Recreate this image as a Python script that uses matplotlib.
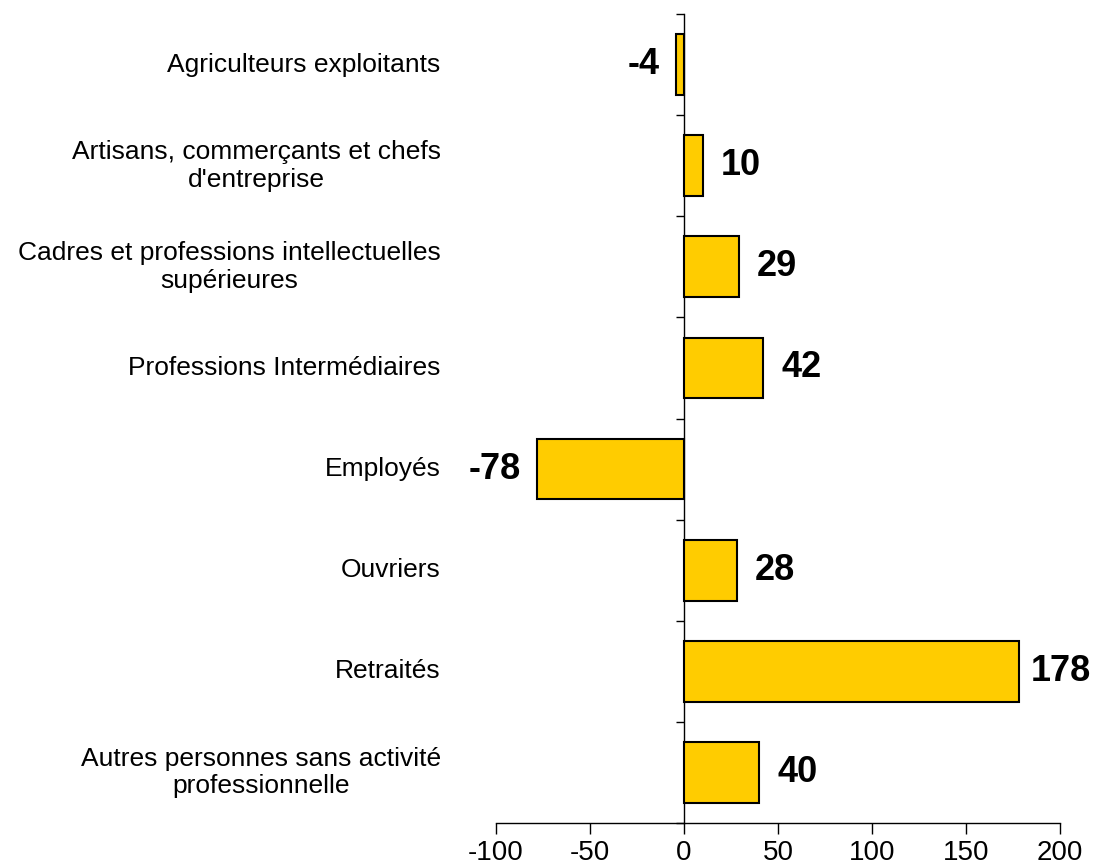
import matplotlib
matplotlib.use("Agg")
from matplotlib import pyplot as plt

categories = [
    "Agriculteurs exploitants",
    "Artisans, commerçants et chefs\nd'entreprise",
    "Cadres et professions intellectuelles\nsupérieures",
    "Professions Intermédiaires",
    "Employés",
    "Ouvriers",
    "Retraités",
    "Autres personnes sans activité\nprofessionnelle",
]
values = [-4, 10, 29, 42, -78, 28, 178, 40]
xticks = [-100, -50, 0, 50, 100, 150, 200]

plt.rcParams['font.family'] = ['Liberation Sans', 'DejaVu Sans']

fig = plt.figure(figsize=(10.94, 8.66), dpi=100)
ax = fig.add_axes([496 / 1094, 1 - 823 / 866, 564 / 1094, 809 / 866])

ypos = list(range(len(categories)))
ax.barh(ypos, values, height=0.6, color='#FFCC00', edgecolor='black',
        linewidth=1.5, zorder=3)

ax.set_xlim(-100, 200)
ax.set_ylim(len(categories) - 0.5, -0.5)

for side in ['top', 'right']:
    ax.spines[side].set_visible(False)
ax.spines['left'].set_position(('data', 0))
ax.spines['bottom'].set_linewidth(1.0)
ax.spines['left'].set_linewidth(1.0)

ax.set_xticks(xticks)
ax.set_xticklabels([str(t) for t in xticks], fontsize=20)
ax.tick_params(axis='x', direction='out', length=8, width=1, pad=4)

ax.set_yticks([i - 0.5 for i in range(len(categories) + 1)])
ax.set_yticklabels([])
ax.tick_params(axis='y', direction='out', length=6, width=1)

for y, cat in zip(ypos, categories):
    ax.text(-0.098, y, cat, transform=ax.get_yaxis_transform(),
            ha='right', va='center', multialignment='center',
            fontsize=19, linespacing=1.2)

xmax = ax.get_xlim()[1]
for y, v in zip(ypos, values):
    if v >= 0:
        # keep the label inside the figure when the bar is long
        off = 13 if v < 0.75 * xmax else 9
        ax.annotate(str(v), (v, y), xytext=(off, 0), textcoords='offset points',
                    ha='left', va='center', fontsize=26, fontweight='bold')
    else:
        ax.annotate(str(v), (v, y), xytext=(-12, 0), textcoords='offset points',
                    ha='right', va='center', fontsize=26, fontweight='bold')

fig.savefig('out.png', dpi=100)
